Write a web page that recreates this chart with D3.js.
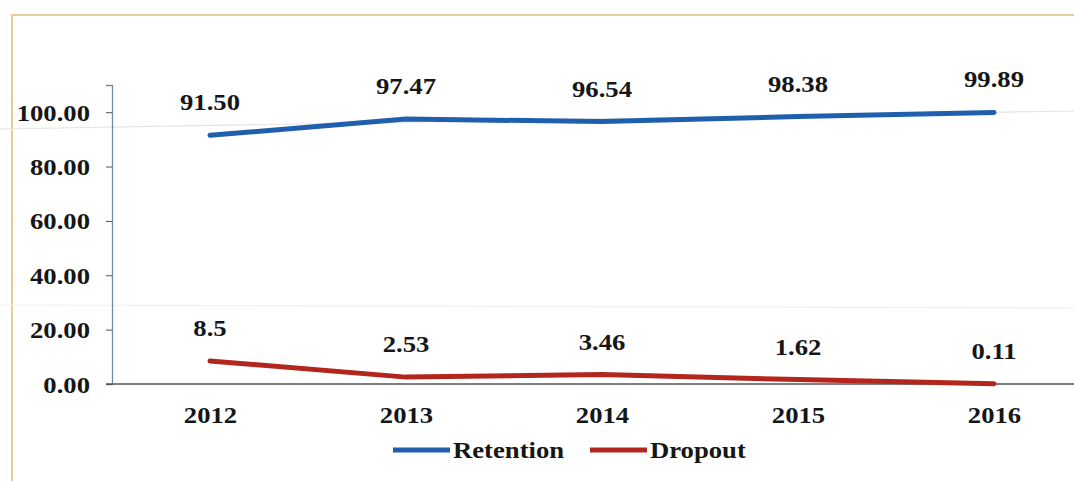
<!DOCTYPE html>
<html>
<head>
<meta charset="utf-8">
<script src="https://cdn.jsdelivr.net/npm/d3@7"></script>
<style>
  html, body { margin: 0; padding: 0; background: #fff; }
  svg { display: block; }
</style>
</head>
<body>
<svg id="chart" width="1074" height="481"></svg>
<script>
// Retention and dropout rates by year (%)
const years = ["2012", "2013", "2014", "2015", "2016"];
const retention = [91.50, 97.47, 96.54, 98.38, 99.89];
const dropout = [8.5, 2.53, 3.46, 1.62, 0.11];
const retentionLabels = ["91.50", "97.47", "96.54", "98.38", "99.89"];
const dropoutLabels = ["8.5", "2.53", "3.46", "1.62", "0.11"];
const yTicks = [0, 20, 40, 60, 80, 100];

const FONT = '"Times New Roman", Tinos, "Liberation Serif", Times, serif';
const FS = 23;          // label font size
const STRETCH = 1.16;   // horizontal widening of the bold serif labels
const INK = "#161616";

const svg = d3.select("#chart");
const W = 1074, H = 481;

// outer frame
svg.append("rect")
  .attr("x", 12).attr("y", 15)
  .attr("width", W + 10).attr("height", H + 10)
  .attr("fill", "none")
  .attr("stroke", "#e6cb9c")
  .attr("stroke-width", 2);

// faint rules across the page
svg.append("line")
  .attr("x1", 0).attr("y1", 129).attr("x2", W).attr("y2", 111)
  .attr("stroke", "#e4e4e4").attr("stroke-width", 1.2);
svg.append("line")
  .attr("x1", 0).attr("y1", 305).attr("x2", W).attr("y2", 308)
  .attr("stroke", "#f0f0f0").attr("stroke-width", 1.2);

const plot = { left: 112, right: 1092, top: 85, bottom: 384 };

const x = d3.scalePoint()
  .domain(years)
  .range([plot.left, plot.right])
  .padding(0.5);

const y = d3.scaleLinear()
  .domain([0, 110])
  .range([plot.bottom, plot.top]);

// helper: draw a stretched bold serif label anchored at (cx, by)
function label(parent, cx, by, str, anchor) {
  return parent.append("text")
    .attr("transform", `translate(${cx},${by}) scale(${STRETCH},1)`)
    .attr("text-anchor", anchor || "middle")
    .style("font-family", FONT)
    .style("font-weight", "bold")
    .style("font-size", FS + "px")
    .style("fill", INK)
    .text(str);
}

// y axis
const yAxis = svg.append("g")
  .attr("transform", `translate(${plot.left},0)`)
  .call(d3.axisLeft(y).tickValues(yTicks).tickFormat(d3.format(".2f")).tickSize(6));
yAxis.select(".domain").attr("stroke", "#6f8aa6").attr("stroke-width", 1.3);
yAxis.selectAll(".tick line").attr("stroke", "#555");
yAxis.selectAll(".tick text").remove();
yAxis.selectAll(".tick").each(function(d) {
  label(d3.select(this), -22, 8, d3.format(".2f")(d), "end");
});

// x axis
const xAxis = svg.append("g")
  .attr("transform", `translate(0,${plot.bottom})`)
  .call(d3.axisBottom(x).tickSize(0));
xAxis.select(".domain").attr("d", `M${plot.left - 6},0H${W}`).attr("stroke", "#555").attr("stroke-width", 1.3);
xAxis.selectAll(".tick text").remove();
xAxis.selectAll(".tick").each(function(d) {
  label(d3.select(this), 0, 39, d);
});

const line = d3.line()
  .x((d, i) => x(years[i]))
  .y(d => y(d));

const series = [
  { name: "Retention", values: retention, labels: retentionLabels, color: "#1f5fad" },
  { name: "Dropout", values: dropout, labels: dropoutLabels, color: "#b3261e" }
];

series.forEach(s => {
  svg.append("path")
    .datum(s.values)
    .attr("fill", "none")
    .attr("stroke", s.color)
    .attr("stroke-width", 5)
    .attr("stroke-linecap", "round")
    .attr("d", line);

  const g = svg.append("g");
  s.values.forEach((v, i) => {
    label(g, x(years[i]), y(v) - 25, s.labels[i]);
  });
});

// legend
const legend = svg.append("g").attr("transform", "translate(393,450)");
const legendItems = [
  { name: "Retention", color: "#1f5fad", dx: 0 },
  { name: "Dropout", color: "#b3261e", dx: 197 }
];
legendItems.forEach(item => {
  const g = legend.append("g").attr("transform", `translate(${item.dx},0)`);
  g.append("line")
    .attr("x1", 0).attr("x2", 57)
    .attr("y1", 0).attr("y2", 0)
    .attr("stroke", item.color)
    .attr("stroke-width", 5);
  label(g, 60, 8, item.name, "start");
});
</script>
</body>
</html>
